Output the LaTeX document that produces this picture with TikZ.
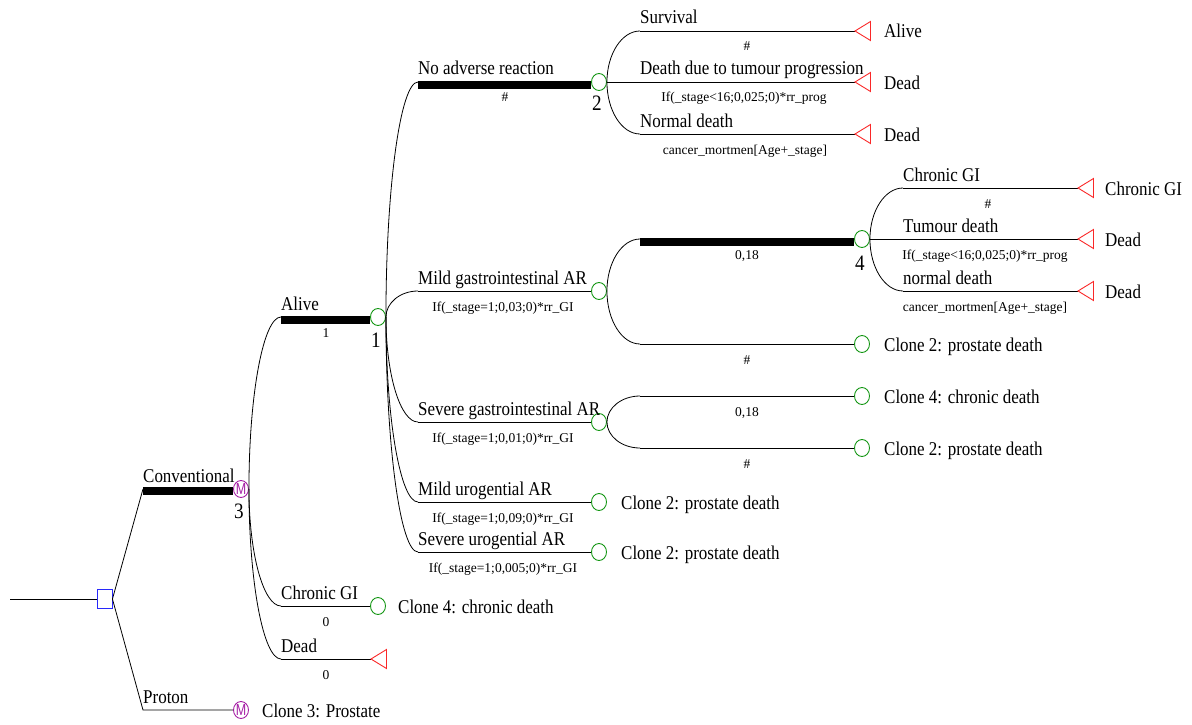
\documentclass[tikz,border=0pt]{standalone}
\usepackage{fontspec}
\setmainfont{Liberation Serif}
\newfontfamily\labfont[FakeStretch=0.87]{Liberation Serif}
\newfontfamily\msym{Liberation Sans}
\usetikzlibrary{shapes.geometric,calc}

\definecolor{chgreen}{RGB}{20,150,20}
\definecolor{termred}{RGB}{250,40,40}
\definecolor{decblue}{RGB}{40,40,250}
\definecolor{mkpurple}{RGB}{165,30,165}

\tikzset{
  branch/.style={line width=0.8pt},
  bar/.style={line width=8pt},
  chance/.style={ellipse, draw=chgreen, line width=0.9pt, minimum width=15pt, minimum height=17pt, inner sep=0pt},
  markov/.style={ellipse, draw=mkpurple, line width=0.9pt, minimum width=15pt, minimum height=17pt, inner sep=0pt, text=mkpurple, font=\msym\fontsize{16}{16}\selectfont},
  decision/.style={rectangle, draw=decblue, line width=0.9pt, minimum width=15pt, minimum height=19pt, inner sep=0pt},
  lbl/.style={anchor=base west, inner sep=0pt, font=\labfont\fontsize{19.5}{19.5}\selectfont},
  prob/.style={anchor=base, inner xsep=1pt, inner ysep=1.5pt, fill=white, font=\fontsize{13.5}{13.5}\selectfont},
  num/.style={anchor=center, inner sep=0pt, font=\labfont\fontsize{22}{22}\selectfont},
  outcome/.style={anchor=base west, inner sep=0pt, font=\labfont\fontsize{19.5}{19.5}\selectfont},
  termtri/.style={draw=termred, line width=0.9pt},
}

% curved branch leaving a node vertically and arriving horizontally
\newcommand\fan[2]{\draw[branch] let \p1=(#1), \p2=(#2) in
  (\p1) .. controls (\x1,{\y1+0.55*(\y2-\y1)}) and ({\x2-0.55*(\x2-\x1)},\y2) .. (\p2);}
% terminal node: triangle pointing left, apex at the given coordinate
\newcommand\term[1]{\draw[termtri] (#1) -- ++(15.5,-9.5) -- ++(0,19) -- cycle;}
\newcommand\msign{\scalebox{0.78}[1]{M}}

\begin{document}
\begin{tikzpicture}[x=1pt,y=-1pt]
\useasboundingbox (0,0) rectangle (1192,725);

% ---------- root decision ----------
\node[decision] (root) at (104.5,599) {};
\coordinate (entry) at (10,599);
\draw[branch] (entry) -- (root.west);

\node[markov] (conv) at (241,489) {\msign};
\node[markov] (prot) at (241,710) {\msign};
\coordinate (convL) at (143,489);
\coordinate (protL) at (143,710);
\draw[branch] (root.east) -- (convL);
\draw[branch] (root.east) -- (protL) -- (prot.west);
\draw[bar] ([yshift=-2pt]convL) -- ([yshift=-2pt]conv.west);
\node[lbl] (lconv) at (143,482) {Conventional};
\node[num] (kconv) at (239,511) {3};
\node[lbl] (lprot) at (143,703) {Proton};
\node[outcome] (oprot) at (262,717) {Clone 3: Prostate};

% ---------- Markov states of the conventional arm ----------
\coordinate (aliveL) at (281,317);
\coordinate (cgL) at (281,606);
\coordinate (deadL) at (281,659);
\node[chance] (n1) at (378,317) {};
\node[chance] (cgT) at (378,606) {};
\coordinate (deadT) at (371,659);
\fan{conv.east}{aliveL}
\fan{conv.east}{cgL}
\fan{conv.east}{deadL}
\draw[bar] ([yshift=-3pt]aliveL) -- ([yshift=-3pt]n1.west);
\draw[branch] (cgL) -- (cgT.west);
\draw[branch] (deadL) -- (deadT);
\term{deadT}

\node[lbl] (lalive) at (281,310) {Alive};
\node[num] (kalive) at (376,340) {1};
\node[lbl] (lcg) at (281,599) {Chronic GI};
\node[outcome] (ocg) at (398,613) {Clone 4: chronic death};
\node[lbl] (ldead) at (281,652) {Dead};

% ---------- events in the alive state ----------
\coordinate (naL) at (418,82);
\coordinate (mgL) at (418,291);
\coordinate (sgL) at (418,422);
\coordinate (muL) at (418,502);
\coordinate (suL) at (418,552);
\node[chance] (n2) at (599,82) {};
\node[chance] (n3) at (599,291) {};
\node[chance] (n6) at (599,422) {};
\node[chance] (n9) at (599,502) {};
\node[chance] (n10) at (599,552) {};
\fan{n1.east}{naL}
\fan{n1.east}{mgL}
\fan{n1.east}{sgL}
\fan{n1.east}{muL}
\fan{n1.east}{suL}
\draw[bar] ([yshift=-3pt]naL) -- ([yshift=-3pt]n2.west);
\draw[branch] (mgL) -- (n3.west);
\draw[branch] (sgL) -- (n6.west);
\draw[branch] (muL) -- (n9.west);
\draw[branch] (suL) -- (n10.west);

\node[lbl] (lna) at (418,75) {No adverse reaction};
\node[num] (kna) at (597,103) {2};
\node[lbl] (lmg) at (418,284) {Mild gastrointestinal AR};
\node[lbl] (lsg) at (418,415) {Severe gastrointestinal AR};
\node[lbl] (lmu) at (418,495) {Mild urogential AR};
\node[lbl] (lsu) at (418,545) {Severe urogential AR};
\node[outcome] (omu) at (621,509) {Clone 2: prostate death};
\node[outcome] (osu) at (621,559) {Clone 2: prostate death};

% ---------- no adverse reaction ----------
\coordinate (svL) at (640,31);
\coordinate (svT) at (855,31);
\coordinate (tpT) at (855,82);
\coordinate (ndL) at (640,134);
\coordinate (ndT) at (855,134);
\fan{n2.east}{svL}
\fan{n2.east}{ndL}
\draw[branch] (svL) -- (svT);
\draw[branch] (n2.east) -- (tpT);
\draw[branch] (ndL) -- (ndT);
\term{svT}
\term{tpT}
\term{ndT}
\node[lbl] (lsv) at (640,24) {Survival};
\node[lbl] (ltp) at (640,75) {Death due to tumour progression};
\node[lbl] (lnd) at (640,127) {Normal death};
\node[outcome] (osv) at (884,38) {Alive};
\node[outcome] (otp) at (884,89) {Dead};
\node[outcome] (ond) at (884,141) {Dead};

% ---------- mild gastrointestinal AR ----------
\coordinate (u18L) at (640,239);
\coordinate (l18L) at (640,344);
\node[chance] (n4) at (862,239) {};
\node[chance] (n5) at (862,344) {};
\fan{n3.east}{u18L}
\fan{n3.east}{l18L}
\draw[bar] ([yshift=-3pt]u18L) -- ([yshift=-3pt]n4.west);
\draw[branch] (l18L) -- (n5.west);
\node[num] (kmg) at (860,263) {4};
\node[outcome] (omg) at (884,351) {Clone 2: prostate death};

\coordinate (cgiL) at (903,188);
\coordinate (cgiT) at (1078,188);
\coordinate (tdT) at (1078,239);
\coordinate (nbL) at (903,291);
\coordinate (nbT) at (1078,291);
\fan{n4.east}{cgiL}
\fan{n4.east}{nbL}
\draw[branch] (cgiL) -- (cgiT);
\draw[branch] (n4.east) -- (tdT);
\draw[branch] (nbL) -- (nbT);
\term{cgiT}
\term{tdT}
\term{nbT}
\node[lbl] (lcgi) at (903,181) {Chronic GI};
\node[lbl] (ltd) at (903,232) {Tumour death};
\node[lbl] (lnb) at (903,284) {normal death};
\node[outcome] (ocgi) at (1105,195) {Chronic GI};
\node[outcome] (otd) at (1105,246) {Dead};
\node[outcome] (onb) at (1105,298) {Dead};

% ---------- severe gastrointestinal AR ----------
\coordinate (s18L) at (640,396);
\coordinate (s2L) at (640,448);
\node[chance] (n7) at (862,396) {};
\node[chance] (n8) at (862,448) {};
\fan{n6.east}{s18L}
\fan{n6.east}{s2L}
\draw[branch] (s18L) -- (n7.west);
\draw[branch] (s2L) -- (n8.west);
\node[outcome] (osg1) at (884,403) {Clone 4: chronic death};
\node[outcome] (osg2) at (884,455) {Clone 2: prostate death};

% ---------- branch probabilities ----------
\node[prob] (palive) at (326,337) {1};
\node[prob] (pcg) at (326,626) {0};
\node[prob] (pdead) at (326,679) {0};
\node[prob] (pna) at (505,102) {\#};
\node[prob] (pmg) at (503,311) {If(\_stage=1;0,03;0)*rr\_GI};
\node[prob] (psg) at (503,442) {If(\_stage=1;0,01;0)*rr\_GI};
\node[prob] (pmu) at (503,522) {If(\_stage=1;0,09;0)*rr\_GI};
\node[prob] (psu) at (503,572) {If(\_stage=1;0,005;0)*rr\_GI};
\node[prob] (psv) at (747,51) {\#};
\node[prob] (ptp) at (744,102) {If(\_stage<16;0,025;0)*rr\_prog};
\node[prob] (pnd) at (745,154) {cancer\_mortmen[Age+\_stage]};
\node[prob] (pu18) at (747,259) {0,18};
\node[prob] (pl18) at (747,364) {\#};
\node[prob] (pcgi) at (988,208) {\#};
\node[prob] (ptd) at (985,259) {If(\_stage<16;0,025;0)*rr\_prog};
\node[prob] (pnb) at (985,311) {cancer\_mortmen[Age+\_stage]};
\node[prob] (ps18) at (747,416) {0,18};
\node[prob] (ps2) at (747,468) {\#};
\end{tikzpicture}
\end{document}
